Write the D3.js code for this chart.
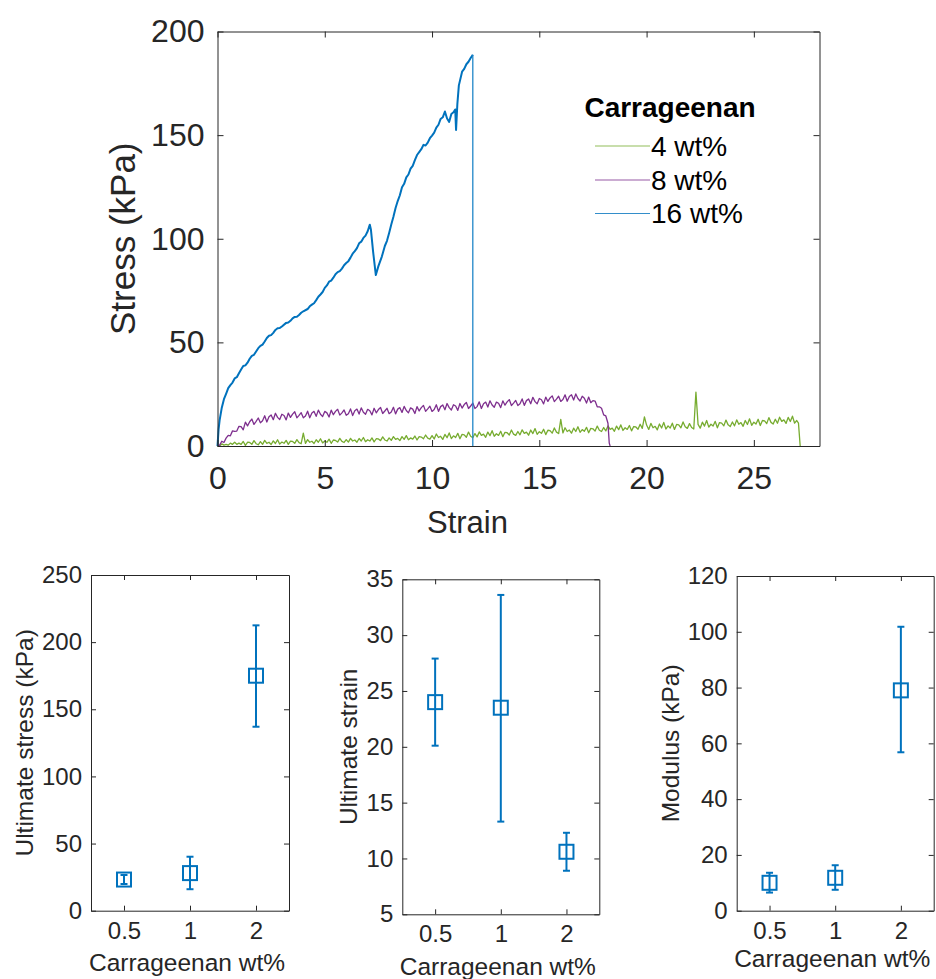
<!DOCTYPE html>
<html>
<head>
<meta charset="utf-8">
<script src="https://cdn.jsdelivr.net/npm/d3@7"></script>
<style>
  body { margin: 0; background: #fff; }
  svg { display: block; }
</style>
</head>
<body>
<div id="chart"></div>
<script>
// Stress-strain curves.
// 4 and 8 wt% are sampled every 0.1 strain (stress in kPa), then the failure drop.
const strainStep = 0.1;

const stress4wt = [
  0, 0, 1.0, 0.4, 0.8, 0.4, 1.4, 0.8, 1.8, 0.8,
  1.4, 0.8, 2.2, 0.3, 1.8, 1.7, 0.8, 2.6, 1.1, 0.6,
  2.1, 0.8, 2.7, 1.3, 1.8, 0.7, 2.5, 1.2, 3.0, 0.9,
  1.9, 1.3, 2.7, 0.8, 2.3, 2.2, 1.3, 3.1, 1.6, 1.1,
  6.2, 1.3, 3.1, 1.8, 2.3, 1.2, 3.0, 1.8, 3.5, 1.5,
  2.4, 1.8, 3.3, 1.3, 2.9, 2.7, 1.9, 3.7, 2.2, 1.7,
  3.1, 1.9, 3.7, 2.4, 2.9, 1.8, 3.6, 2.4, 4.1, 2.1,
  3.0, 2.4, 3.9, 2.0, 3.5, 3.4, 2.6, 4.4, 2.9, 2.4,
  3.9, 2.7, 4.5, 3.2, 3.7, 2.6, 4.5, 3.2, 5.0, 3.0,
  3.9, 3.3, 4.8, 2.9, 4.5, 4.3, 3.5, 5.3, 3.8, 3.3,
  5.0, 3.4, 5.8, 4.1, 4.7, 3.2, 5.6, 4.0, 6.3, 3.6,
  4.9, 4.1, 6.1, 3.5, 5.6, 5.4, 4.2, 6.7, 4.7, 4.0,
  6.0, 4.4, 6.8, 5.1, 5.7, 4.2, 6.7, 5.0, 7.4, 4.7,
  5.9, 5.1, 7.1, 4.5, 6.6, 6.4, 5.3, 7.7, 5.7, 5.1,
  7.0, 5.4, 7.8, 6.1, 6.7, 5.2, 7.7, 6.0, 8.4, 5.6,
  6.9, 6.1, 8.1, 5.5, 7.6, 7.4, 6.2, 8.7, 6.7, 6.0,
  12.8, 6.3, 8.8, 7.0, 7.7, 6.2, 8.6, 7.0, 9.3, 6.6,
  7.9, 7.1, 9.0, 6.4, 8.5, 8.3, 7.2, 9.6, 7.6, 7.0,
  8.9, 7.3, 9.7, 8.0, 8.6, 7.1, 9.6, 7.9, 10.2, 7.5,
  8.8, 8.0, 9.9, 7.3, 9.4, 9.2, 8.1, 10.5, 8.5, 14.0,
  10.1, 8.0, 10.9, 8.8, 9.5, 7.8, 10.6, 8.7, 11.4, 8.2,
  9.7, 8.7, 11.0, 8.0, 10.4, 10.2, 8.8, 11.6, 9.3, 8.5,
  10.8, 8.9, 8.2, 26.0, 10.4, 8.6, 11.5, 9.6, 12.3, 9.1,
  10.5, 9.6, 11.9, 8.8, 11.3, 11.0, 9.7, 12.5, 10.2, 9.4,
  11.6, 9.7, 12.6, 10.5, 11.3, 9.5, 12.3, 10.4, 13.1, 10.0,
  11.5, 10.6, 12.9, 9.9, 12.3, 12.1, 10.8, 13.7, 11.4, 10.6,
  12.9, 11.0, 13.9, 11.9, 12.6, 10.9, 13.8, 11.8, 14.4, 11.0,
  12.3
];
const end4wt = [[27.08, 11.0], [27.16, 0]];

const stress8wt = [
  0, 0.4, 2.3, 1.7, 3.8, 5.1, 4.9, 7.3, 7.1, 7.2,
  9.5, 9.3, 7.8, 11.5, 9.7, 11.7, 13.0, 10.4, 11.9, 13.5,
  11.2, 12.2, 14.6, 11.6, 14.1, 15.0, 12.7, 15.8, 13.8, 12.8,
  15.3, 14.7, 12.6, 15.9, 13.8, 15.4, 16.5, 13.6, 14.8, 16.1,
  13.6, 14.5, 16.8, 13.6, 15.9, 16.7, 14.3, 17.3, 15.3, 14.2,
  16.7, 16.0, 14.0, 17.3, 15.1, 16.7, 17.7, 14.9, 16.0, 17.4,
  14.8, 15.6, 17.9, 14.7, 17.0, 17.8, 15.4, 18.4, 16.3, 15.3,
  17.7, 17.0, 15.0, 18.2, 16.0, 17.6, 18.6, 15.7, 16.9, 18.2,
  15.6, 16.4, 18.7, 15.5, 17.8, 18.5, 16.2, 19.1, 17.1, 16.0,
  18.4, 17.8, 15.7, 19.0, 16.9, 18.5, 19.6, 16.7, 17.9, 19.2,
  16.7, 17.6, 19.9, 16.7, 19.0, 19.8, 17.5, 20.5, 18.5, 17.4,
  19.9, 19.3, 17.2, 20.5, 18.3, 20.0, 21.0, 18.1, 19.3, 20.7,
  18.1, 19.0, 21.3, 18.1, 20.4, 21.2, 18.8, 21.8, 19.8, 18.7,
  21.2, 20.6, 18.5, 21.8, 19.7, 21.3, 22.4, 19.5, 20.7, 22.0,
  19.5, 20.4, 22.7, 19.6, 21.9, 22.7, 20.4, 23.5, 21.4, 20.4,
  22.9, 22.3, 20.3, 23.6, 21.5, 23.2, 24.2, 21.4, 22.6, 24.0,
  21.5, 22.4, 24.7, 21.6, 23.9, 24.7, 22.2, 25.1, 22.9, 21.7,
  24.0, 23.0, 20.7, 23.6, 20.9, 21.9, 21.7, 18.9, 18.9, 18.2,
  15.0, 14.5, 11.0
];
const end8wt = [[18.26, 1.4], [18.3, 0]];

// 16 wt%: [strain, stress], last point is the break
const curve16wt = [
  [0,0],[0.05,8],[0.1,12.5],[0.2,18.5],[0.3,22.6],[0.4,25.2],[0.5,27.9],[0.6,29.4],[0.7,30.6],[0.8,32.6],
  [0.9,33.2],[1.0,35.1],[1.1,36.9],[1.2,38.6],[1.3,38.9],[1.4,40.2],[1.5,42.1],[1.6,43.5],[1.7,44.0],[1.8,45.6],
  [1.9,47.2],[2.0,48.3],[2.1,48.9],[2.2,50.4],[2.3,52.1],[2.4,53.2],[2.5,53.5],[2.6,54.6],[2.7,56.0],[2.8,56.8],
  [2.9,56.9],[3.0,57.7],[3.2,59.4],[3.3,59.6],[3.4,60.4],[3.5,61.6],[3.6,62.3],[3.7,62.4],[3.8,63.2],[3.9,64.3],
  [4.0,65.0],[4.2,66.1],[4.3,67.4],[4.4,68.2],[4.5,68.9],[4.6,70.4],[4.7,72.0],[4.8,73.1],[4.9,74.3],[5.0,76.3],
  [5.1,77.5],[5.2,79.3],[5.3,79.8],[5.4,81.2],[5.5,82.9],[5.6,83.9],[5.7,84.4],[5.8,85.6],[5.9,87.2],[6.0,88.3],
  [6.1,89.2],[6.2,90.9],[6.3,92.8],[6.4,94.0],[6.5,95.5],[6.6,97.8],[6.7,98.6],[6.8,100.4],[6.9,101.5],[7.0,103.6],
  [7.1,106.8],[7.15,104.5],[7.25,94.0],[7.38,82.5],[7.5,86.8],[7.66,91.4],[7.8,96.5],[7.9,99.0],[8.0,102.8],[8.1,106.9],
  [8.2,110.6],[8.3,114.8],[8.4,118.2],[8.5,121.0],[8.6,124.8],[8.7,126.5],[8.8,129.6],[8.9,131.0],[9.0,133.8],[9.1,135.2],
  [9.2,137.9],[9.3,140.4],[9.4,141.8],[9.5,143.2],[9.6,145.3],[9.7,145.0],[9.8,146.4],[9.9,148.5],[10.0,149.8],[10.1,151.2],
  [10.2,153.6],[10.3,155.0],[10.4,157.8],[10.5,158.6],[10.6,161.4],[10.7,158.0],[10.8,156.4],[10.9,160.2],[11.0,161.0],[11.08,162.4],
  [11.12,152.5],[11.18,165.0],[11.25,174.0],[11.4,180.6],[11.5,182.0],[11.6,184.2],[11.7,185.4],[11.8,187.2],[11.9,188.8],[11.9,0]
];

const seriesNames = ['4 wt%', '8 wt%', '16 wt%'];
const seriesColors = ['#77AC30', '#7E2F8E', '#0072BD'];
const strainTicks = [0, 5, 10, 15, 20, 25];
const stressTicks = [0, 50, 100, 150, 200];

// Summary plots: mean with error bar ends
const concentrations = ['0.5', '1', '2'];
const ultimateStress = [23.2, 28, 175];
const ultimateStressLow = [19.9, 16, 137];
const ultimateStressHigh = [26.6, 40.2, 212.5];
const ultimateStrain = [24, 23.5, 10.6];
const ultimateStrainLow = [20.1, 13.3, 8.9];
const ultimateStrainHigh = [27.9, 33.6, 12.3];
const modulus = [10, 11.8, 79];
const modulusLow = [6.5, 7.5, 56.8];
const modulusHigh = [13.6, 16.3, 101.8];
const ultimateStressTicks = [0, 50, 100, 150, 200, 250];
const ultimateStrainTicks = [5, 10, 15, 20, 25, 30, 35];
const modulusTicks = [0, 20, 40, 60, 80, 100, 120];

const FONT = '"Liberation Sans", Arial, sans-serif';
const INK = '#262626';
const W = 936, H = 979;

const svg = d3.select('#chart').append('svg')
    .attr('width', W)
    .attr('height', H)
    .attr('font-family', FONT);

svg.append('rect').attr('width', W).attr('height', H).attr('fill', '#fff');

function styleAxis(g, size) {
    g.attr('font-size', size).attr('font-family', FONT);
    g.selectAll('path, line').attr('stroke', INK);
    g.selectAll('text').attr('fill', INK);
}

// ---------- top: stress-strain ----------
const main = { left: 217.5, right: 819.5, top: 31.5, bottom: 446 };
const x = d3.scaleLinear().domain([0, 28.06]).range([main.left, main.right]);
const y = d3.scaleLinear().domain([0, 200]).range([main.bottom, main.top]);

const toPairs = arr => arr.map((v, i) => [i * strainStep, v]);
const curve4wt = toPairs(stress4wt).concat(end4wt);
const curve8wt = toPairs(stress8wt).concat(end8wt);

const line = d3.line().x(d => x(d[0])).y(d => y(d[1]));

[curve4wt, curve8wt].forEach((c, i) => {
    svg.append('path')
        .datum(c)
        .attr('fill', 'none')
        .attr('stroke', seriesColors[i])
        .attr('stroke-width', 1.3)
        .attr('stroke-linejoin', 'round')
        .attr('d', line);
});

// 16 wt%: loading part thicker, break drop drawn as a thin line
svg.append('path')
    .datum(curve16wt.slice(0, -1))
    .attr('fill', 'none')
    .attr('stroke', seriesColors[2])
    .attr('stroke-width', 2)
    .attr('stroke-linejoin', 'round')
    .attr('d', line);
svg.append('path')
    .datum(curve16wt.slice(-2))
    .attr('fill', 'none')
    .attr('stroke', '#1f86c8')
    .attr('stroke-width', 1.3)
    .attr('d', line);

svg.append('g')
    .attr('transform', `translate(0,${main.bottom})`)
    .call(d3.axisBottom(x).tickValues(strainTicks).tickSizeInner(-6).tickSizeOuter(0).tickPadding(20))
    .call(g => styleAxis(g, 32));
svg.append('g')
    .attr('transform', `translate(0,${main.top})`)
    .call(d3.axisTop(x).tickValues(strainTicks).tickFormat('').tickSizeInner(-6).tickSizeOuter(0))
    .call(g => styleAxis(g, 32));
svg.append('g')
    .attr('transform', `translate(${main.left},0)`)
    .call(d3.axisLeft(y).tickValues(stressTicks).tickSizeInner(-6).tickSizeOuter(0).tickPadding(13))
    .call(g => styleAxis(g, 32));
svg.append('g')
    .attr('transform', `translate(${main.right},0)`)
    .call(d3.axisRight(y).tickValues(stressTicks).tickFormat('').tickSizeInner(-6).tickSizeOuter(0))
    .call(g => styleAxis(g, 32));

svg.append('text')
    .attr('x', 467.5)
    .attr('y', 522)
    .attr('dy', '0.35em')
    .attr('text-anchor', 'middle')
    .attr('font-size', 31)
    .attr('fill', INK)
    .text('Strain');

svg.append('text')
    .attr('transform', `translate(123,${(main.top + main.bottom) / 2}) rotate(-90)`)
    .attr('dy', '0.35em')
    .attr('text-anchor', 'middle')
    .attr('font-size', 35)
    .attr('fill', INK)
    .text('Stress (kPa)');

// legend
const legend = svg.append('g');
legend.append('text')
    .attr('x', 670)
    .attr('y', 107)
    .attr('dy', '0.35em')
    .attr('text-anchor', 'middle')
    .attr('font-size', 28)
    .attr('font-weight', 'bold')
    .attr('fill', '#000')
    .text('Carrageenan');

const legendRows = [146, 180, 213.5];
seriesNames.forEach((name, i) => {
    legend.append('line')
        .attr('x1', 595).attr('x2', 650)
        .attr('y1', legendRows[i]).attr('y2', legendRows[i])
        .attr('stroke', seriesColors[i])
        .attr('stroke-opacity', 0.8)
        .attr('stroke-width', 1.2);
    legend.append('text')
        .attr('x', 651)
        .attr('y', legendRows[i])
        .attr('dy', '0.35em')
        .attr('font-size', 28)
        .attr('fill', '#000')
        .text(name);
});

// ---------- bottom: summary plots ----------
function drawSummary(o) {
    const xs = d3.scalePoint().domain(concentrations).range([o.left, o.right]).padding(0.5);
    const ys = d3.scaleLinear().domain(o.domain).range([o.bottom, o.top]);
    const g = svg.append('g');

    g.append('g')
        .attr('transform', `translate(0,${o.bottom})`)
        .call(d3.axisBottom(xs).tickSizeInner(-5).tickSizeOuter(0).tickPadding(11))
        .call(a => styleAxis(a, 24));
    g.append('g')
        .attr('transform', `translate(0,${o.top})`)
        .call(d3.axisTop(xs).tickFormat('').tickSizeInner(-5).tickSizeOuter(0))
        .call(a => styleAxis(a, 24));
    g.append('g')
        .attr('transform', `translate(${o.left},0)`)
        .call(d3.axisLeft(ys).tickValues(o.ticks).tickSizeInner(-5).tickSizeOuter(0).tickPadding(9))
        .call(a => styleAxis(a, 24));
    g.append('g')
        .attr('transform', `translate(${o.right},0)`)
        .call(d3.axisRight(ys).tickValues(o.ticks).tickFormat('').tickSizeInner(-5).tickSizeOuter(0))
        .call(a => styleAxis(a, 24));

    const pts = concentrations.map((c, i) => ({ c, v: o.values[i], lo: o.low[i], hi: o.high[i] }));
    const marks = g.selectAll('.pt').data(pts).enter().append('g').attr('class', 'pt');
    marks.append('line')
        .attr('x1', d => xs(d.c)).attr('x2', d => xs(d.c))
        .attr('y1', d => ys(d.lo)).attr('y2', d => ys(d.hi));
    marks.append('line')
        .attr('x1', d => xs(d.c) - 3.5).attr('x2', d => xs(d.c) + 3.5)
        .attr('y1', d => ys(d.lo)).attr('y2', d => ys(d.lo));
    marks.append('line')
        .attr('x1', d => xs(d.c) - 3.5).attr('x2', d => xs(d.c) + 3.5)
        .attr('y1', d => ys(d.hi)).attr('y2', d => ys(d.hi));
    marks.append('rect')
        .attr('x', d => xs(d.c) - 7).attr('y', d => ys(d.v) - 7)
        .attr('width', 14).attr('height', 14)
        .attr('fill', 'none');
    marks.selectAll('line, rect')
        .attr('stroke', '#0072BD')
        .attr('stroke-width', 2);

    g.append('text')
        .attr('x', (o.left + o.right) / 2 - 3)
        .attr('y', o.bottom + o.xLabelGap)
        .attr('dy', '0.35em')
        .attr('text-anchor', 'middle')
        .attr('font-size', 24.5)
        .attr('fill', INK)
        .text('Carrageenan wt%');

    g.append('text')
        .attr('transform', `translate(${o.left - o.labelGap},${(o.top + o.bottom) / 2}) rotate(-90)`)
        .attr('dy', '0.35em')
        .attr('text-anchor', 'middle')
        .attr('font-size', 24.5)
        .attr('fill', INK)
        .text(o.label);
}

drawSummary({
    left: 91, right: 289, top: 575, bottom: 910.7,
    domain: [0, 250], ticks: ultimateStressTicks,
    values: ultimateStress, low: ultimateStressLow, high: ultimateStressHigh,
    label: 'Ultimate stress (kPa)', labelGap: 67, xLabelGap: 52
});
drawSummary({
    left: 402.3, right: 599.3, top: 579.3, bottom: 914.3,
    domain: [5, 35], ticks: ultimateStrainTicks,
    values: ultimateStrain, low: ultimateStrainLow, high: ultimateStrainHigh,
    label: 'Ultimate strain', labelGap: 54, xLabelGap: 52
});
drawSummary({
    left: 736.7, right: 933.7, top: 576, bottom: 910.7,
    domain: [0, 120], ticks: modulusTicks,
    values: modulus, low: modulusLow, high: modulusHigh,
    label: 'Modulus (kPa)', labelGap: 66, xLabelGap: 48
});
</script>
</body>
</html>
